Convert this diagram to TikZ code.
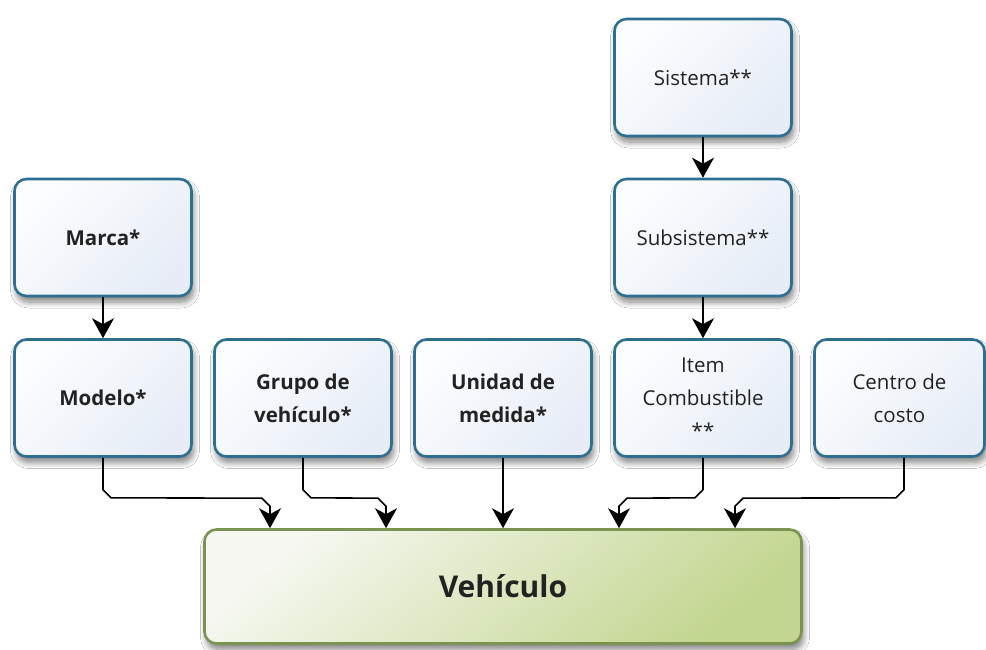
\documentclass[tikz,border=0pt]{standalone}
\usepackage{fontspec}
\setmainfont{Open Sans}
\usetikzlibrary{arrows.meta,shadows.blur,calc}
\definecolor{boxline}{HTML}{2D6E91}
\definecolor{boxlight}{HTML}{FCFDFE}
\definecolor{boxdark}{HTML}{E6EDF7}
\definecolor{vehline}{HTML}{7A9350}
\definecolor{vehlight}{HTML}{F6F8F1}
\definecolor{vehdark}{HTML}{C3D690}
\definecolor{txt}{HTML}{222222}
\begin{document}
\begin{tikzpicture}[x=1pt,y=-1pt,
  entity/.style={draw=boxline, line width=2.6pt, rounded corners=12pt,
    minimum width=177pt, minimum height=117pt, inner sep=2pt,
    top color=boxlight, bottom color=boxdark, shading angle=45,
    align=center, text=txt, font=\fontsize{20.5}{33}\selectfont,
    blur shadow={shadow xshift=2pt, shadow yshift=-6pt, shadow blur radius=6pt, shadow blur steps=10, shadow opacity=50}},
  key/.style={entity, font=\fontsize{20.5}{33}\selectfont\bfseries},
  target/.style={draw=vehline, line width=2.6pt, rounded corners=12pt,
    minimum width=597pt, minimum height=114pt,
    top color=vehlight, bottom color=vehdark, shading angle=40,
    text=txt, font=\fontsize{30}{36}\selectfont\bfseries,
    blur shadow={shadow xshift=2pt, shadow yshift=-6pt, shadow blur radius=6pt, shadow blur steps=10, shadow opacity=50}},
  conn/.style={line width=1.6pt, black, -{Stealth[length=20pt, width=22pt, inset=6pt]}},
]
\useasboundingbox (0,0) rectangle (986,650);
\fill[white] (0,0) rectangle (986,650);

% upper chains
\node[key] (marca) at (103,237.5) {Marca*};
\node[entity] (sistema) at (703,77.5) {Sistema**};
\node[entity] (subsistema) at (703,237.5) {Subsistema**};

% second row
\node[key] (modelo) at (103,398) {Modelo*};
\node[key] (grupo) at (303,398) {Grupo de\\vehículo*};
\node[key] (unidad) at (503,398) {Unidad de\\medida*};
\node[entity] (item) at (703,398) {Item\\Combustible\\**};
\node[entity, minimum width=170pt] (centro) at (899.5,398) {Centro de\\costo};

% main entity
\node[target] (veh) at (503,586.5) {Vehículo};

% entry points on the top edge of the main entity
\coordinate (a1) at ($(veh.north)+(-233,0)$);
\coordinate (a2) at ($(veh.north)+(-117,0)$);
\coordinate (a4) at ($(veh.north)+(116,0)$);
\coordinate (a5) at ($(veh.north)+(232,0)$);
\coordinate (c5) at ($(centro.south)+(4.5,0)$);

% vertical links
\draw[conn] (marca) -- (modelo);
\draw[conn] (sistema) -- (subsistema);
\draw[conn] (subsistema) -- (item);
\draw[conn] (unidad) -- (veh);

% bent links with chamfered corners
\draw[conn] (modelo.south) -- ++(0,32) -- ++(8,8) -- ($(a1)+(-8,-30)$) -- ($(a1)+(0,-22)$) -- (a1);
\draw[conn] (grupo.south) -- ++(0,32) -- ++(8,8) -- ($(a2)+(-8,-30)$) -- ($(a2)+(0,-22)$) -- (a2);
\draw[conn] (item.south) -- ++(0,32) -- ++(-8,8) -- ($(a4)+(8,-30)$) -- ($(a4)+(0,-22)$) -- (a4);
\draw[conn] (c5) -- ++(0,32) -- ++(-8,8) -- ($(a5)+(8,-30)$) -- ($(a5)+(0,-22)$) -- (a5);
\end{tikzpicture}
\end{document}
